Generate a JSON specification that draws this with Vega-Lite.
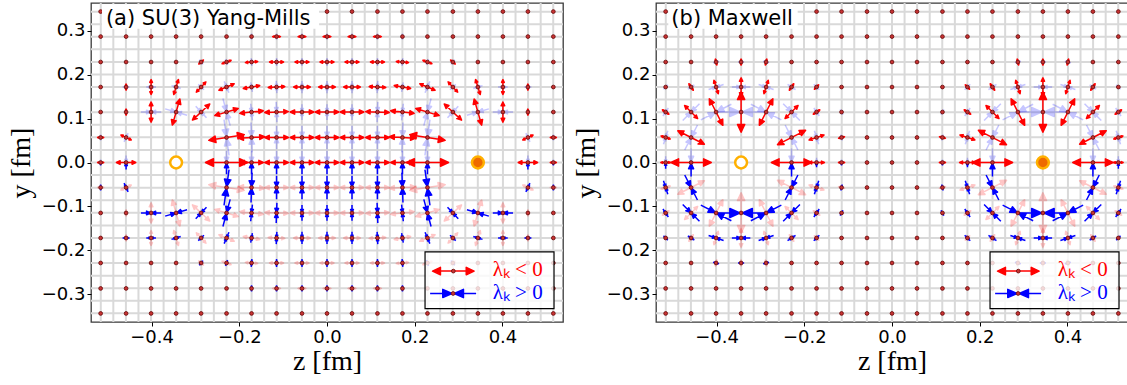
{
"$schema":"https://vega.github.io/schema/vega-lite/v6.json",
"background":"white",
"padding":{"left":6,"top":1,"right":0,"bottom":0},
"bounds":"flush",
"spacing":93,
"config":{"view":{"stroke":"#3a3a3a","strokeWidth":1.3},"axis":{"grid":false,"domain":false,"tickColor":"black","tickSize":4,"tickWidth":1,"labelFont":"DejaVu Sans","labelFontSize":18,"labelColor":"black","titleFont":"Liberation Serif","titleFontSize":28,"titleFontWeight":"normal","titleColor":"black"}},
"datasets":{
"GZ":[{"z":-0.5157},{"z":-0.4871},{"z":-0.4584},{"z":-0.4298},{"z":-0.4011},{"z":-0.3725},{"z":-0.3438},{"z":-0.3152},{"z":-0.2865},{"z":-0.2579},{"z":-0.2292},{"z":-0.2006},{"z":-0.1719},{"z":-0.1433},{"z":-0.1146},{"z":-0.086},{"z":-0.0573},{"z":-0.0287},{"z":0},{"z":0.0287},{"z":0.0573},{"z":0.086},{"z":0.1146},{"z":0.1433},{"z":0.1719},{"z":0.2006},{"z":0.2292},{"z":0.2579},{"z":0.2865},{"z":0.3152},{"z":0.3438},{"z":0.3725},{"z":0.4011},{"z":0.4298},{"z":0.4584},{"z":0.4871},{"z":0.5157}],
"GY":[{"y":-0.3438},{"y":-0.3152},{"y":-0.2865},{"y":-0.2579},{"y":-0.2292},{"y":-0.2006},{"y":-0.1719},{"y":-0.1433},{"y":-0.1146},{"y":-0.086},{"y":-0.0573},{"y":-0.0287},{"y":0},{"y":0.0287},{"y":0.0573},{"y":0.086},{"y":0.1146},{"y":0.1433},{"y":0.1719},{"y":0.2006},{"y":0.2292},{"y":0.2579},{"y":0.2865},{"y":0.3152},{"y":0.3438}],
"S":[{"z":-0.344,"y":0,"c":"o"},{"z":0.344,"y":0,"c":"f"}],
"L":[
{"z":-0.516,"y":0.344},{"z":-0.458,"y":0.344},{"z":-0.401,"y":0.344},{"z":-0.344,"y":0.344},{"z":-0.287,"y":0.344},{"z":-0.229,"y":0.344},{"z":-0.172,"y":0.344},{"z":-0.115,"y":0.344},{"z":-0.057,"y":0.344},{"z":0,"y":0.344},{"z":0.057,"y":0.344},{"z":0.115,"y":0.344},{"z":0.172,"y":0.344},{"z":0.229,"y":0.344},{"z":0.287,"y":0.344},{"z":0.344,"y":0.344},{"z":0.401,"y":0.344},{"z":0.458,"y":0.344},{"z":0.516,"y":0.344},
{"z":-0.516,"y":0.287},{"z":-0.458,"y":0.287},{"z":-0.401,"y":0.287},{"z":-0.344,"y":0.287},{"z":-0.287,"y":0.287},{"z":-0.229,"y":0.287},{"z":-0.172,"y":0.287},{"z":-0.115,"y":0.287},{"z":-0.057,"y":0.287},{"z":0,"y":0.287},{"z":0.057,"y":0.287},{"z":0.115,"y":0.287},{"z":0.172,"y":0.287},{"z":0.229,"y":0.287},{"z":0.287,"y":0.287},{"z":0.344,"y":0.287},{"z":0.401,"y":0.287},{"z":0.458,"y":0.287},{"z":0.516,"y":0.287},
{"z":-0.516,"y":0.229},{"z":-0.458,"y":0.229},{"z":-0.401,"y":0.229},{"z":-0.344,"y":0.229},{"z":-0.287,"y":0.229},{"z":-0.229,"y":0.229},{"z":-0.172,"y":0.229},{"z":-0.115,"y":0.229},{"z":-0.057,"y":0.229},{"z":0,"y":0.229},{"z":0.057,"y":0.229},{"z":0.115,"y":0.229},{"z":0.172,"y":0.229},{"z":0.229,"y":0.229},{"z":0.287,"y":0.229},{"z":0.344,"y":0.229},{"z":0.401,"y":0.229},{"z":0.458,"y":0.229},{"z":0.516,"y":0.229},
{"z":-0.516,"y":0.172},{"z":-0.458,"y":0.172},{"z":-0.401,"y":0.172},{"z":-0.344,"y":0.172},{"z":-0.287,"y":0.172},{"z":-0.229,"y":0.172},{"z":-0.172,"y":0.172},{"z":-0.115,"y":0.172},{"z":-0.057,"y":0.172},{"z":0,"y":0.172},{"z":0.057,"y":0.172},{"z":0.115,"y":0.172},{"z":0.172,"y":0.172},{"z":0.229,"y":0.172},{"z":0.287,"y":0.172},{"z":0.344,"y":0.172},{"z":0.401,"y":0.172},{"z":0.458,"y":0.172},{"z":0.516,"y":0.172},
{"z":-0.516,"y":0.115},{"z":-0.458,"y":0.115},{"z":-0.401,"y":0.115},{"z":-0.344,"y":0.115},{"z":-0.287,"y":0.115},{"z":-0.229,"y":0.115},{"z":-0.172,"y":0.115},{"z":-0.115,"y":0.115},{"z":-0.057,"y":0.115},{"z":0,"y":0.115},{"z":0.057,"y":0.115},{"z":0.115,"y":0.115},{"z":0.172,"y":0.115},{"z":0.229,"y":0.115},{"z":0.287,"y":0.115},{"z":0.344,"y":0.115},{"z":0.401,"y":0.115},{"z":0.458,"y":0.115},{"z":0.516,"y":0.115},
{"z":-0.516,"y":0.057},{"z":-0.458,"y":0.057},{"z":-0.229,"y":0.057},{"z":-0.172,"y":0.057},{"z":-0.115,"y":0.057},{"z":-0.057,"y":0.057},{"z":0,"y":0.057},{"z":0.057,"y":0.057},{"z":0.115,"y":0.057},{"z":0.172,"y":0.057},{"z":0.229,"y":0.057},{"z":0.458,"y":0.057},{"z":0.516,"y":0.057},
{"z":-0.516,"y":0},{"z":-0.458,"y":0},{"z":-0.229,"y":0},{"z":-0.172,"y":0},{"z":-0.115,"y":0},{"z":-0.057,"y":0},{"z":0,"y":0},{"z":0.057,"y":0},{"z":0.115,"y":0},{"z":0.172,"y":0},{"z":0.229,"y":0},{"z":0.458,"y":0},{"z":0.516,"y":0},
{"z":-0.516,"y":-0.057},{"z":-0.458,"y":-0.057},{"z":-0.229,"y":-0.057},{"z":-0.172,"y":-0.057},{"z":-0.115,"y":-0.057},{"z":-0.057,"y":-0.057},{"z":0,"y":-0.057},{"z":0.057,"y":-0.057},{"z":0.115,"y":-0.057},{"z":0.172,"y":-0.057},{"z":0.229,"y":-0.057},{"z":0.458,"y":-0.057},{"z":0.516,"y":-0.057},
{"z":-0.516,"y":-0.115},{"z":-0.458,"y":-0.115},{"z":-0.401,"y":-0.115},{"z":-0.344,"y":-0.115},{"z":-0.287,"y":-0.115},{"z":-0.229,"y":-0.115},{"z":-0.172,"y":-0.115},{"z":-0.115,"y":-0.115},{"z":-0.057,"y":-0.115},{"z":0,"y":-0.115},{"z":0.057,"y":-0.115},{"z":0.115,"y":-0.115},{"z":0.172,"y":-0.115},{"z":0.229,"y":-0.115},{"z":0.287,"y":-0.115},{"z":0.344,"y":-0.115},{"z":0.401,"y":-0.115},{"z":0.458,"y":-0.115},{"z":0.516,"y":-0.115},
{"z":-0.516,"y":-0.172},{"z":-0.458,"y":-0.172},{"z":-0.401,"y":-0.172},{"z":-0.344,"y":-0.172},{"z":-0.287,"y":-0.172},{"z":-0.229,"y":-0.172},{"z":-0.172,"y":-0.172},{"z":-0.115,"y":-0.172},{"z":-0.057,"y":-0.172},{"z":0,"y":-0.172},{"z":0.057,"y":-0.172},{"z":0.115,"y":-0.172},{"z":0.172,"y":-0.172},{"z":0.229,"y":-0.172},{"z":0.287,"y":-0.172},{"z":0.344,"y":-0.172},{"z":0.401,"y":-0.172},{"z":0.458,"y":-0.172},{"z":0.516,"y":-0.172},
{"z":-0.516,"y":-0.229},{"z":-0.458,"y":-0.229},{"z":-0.401,"y":-0.229},{"z":-0.344,"y":-0.229},{"z":-0.287,"y":-0.229},{"z":-0.229,"y":-0.229},{"z":-0.172,"y":-0.229},{"z":-0.115,"y":-0.229},{"z":-0.057,"y":-0.229},{"z":0,"y":-0.229},{"z":0.057,"y":-0.229},{"z":0.115,"y":-0.229},{"z":0.172,"y":-0.229},{"z":0.229,"y":-0.229},{"z":0.287,"y":-0.229},{"z":0.344,"y":-0.229},{"z":0.401,"y":-0.229},{"z":0.458,"y":-0.229},{"z":0.516,"y":-0.229},
{"z":-0.516,"y":-0.287},{"z":-0.458,"y":-0.287},{"z":-0.401,"y":-0.287},{"z":-0.344,"y":-0.287},{"z":-0.287,"y":-0.287},{"z":-0.229,"y":-0.287},{"z":-0.172,"y":-0.287},{"z":-0.115,"y":-0.287},{"z":-0.057,"y":-0.287},{"z":0,"y":-0.287},{"z":0.057,"y":-0.287},{"z":0.115,"y":-0.287},{"z":0.172,"y":-0.287},{"z":0.229,"y":-0.287},{"z":0.287,"y":-0.287},{"z":0.344,"y":-0.287},{"z":0.401,"y":-0.287},{"z":0.458,"y":-0.287},{"z":0.516,"y":-0.287},
{"z":-0.516,"y":-0.344},{"z":-0.458,"y":-0.344},{"z":-0.401,"y":-0.344},{"z":-0.344,"y":-0.344},{"z":-0.287,"y":-0.344},{"z":-0.229,"y":-0.344},{"z":-0.172,"y":-0.344},{"z":-0.115,"y":-0.344},{"z":-0.057,"y":-0.344},{"z":0,"y":-0.344},{"z":0.057,"y":-0.344},{"z":0.115,"y":-0.344},{"z":0.172,"y":-0.344},{"z":0.229,"y":-0.344},{"z":0.287,"y":-0.344},{"z":0.344,"y":-0.344},{"z":0.401,"y":-0.344},{"z":0.458,"y":-0.344},{"z":0.516,"y":-0.344}
],
"A":[
{"z":-0.115,"y":0.287,"m":0.009,"t":0,"k":"n"},{"z":-0.057,"y":0.287,"m":0.009,"t":0,"k":"n"},{"z":0,"y":0.287,"m":0.009,"t":0,"k":"n"},{"z":0.057,"y":0.287,"m":0.009,"t":0,"k":"n"},{"z":0.115,"y":0.287,"m":0.009,"t":0,"k":"n"},
{"z":-0.287,"y":0.229,"m":0.007,"t":40,"k":"n"},{"z":-0.229,"y":0.229,"m":0.011,"t":20,"k":"n"},{"z":-0.172,"y":0.229,"m":0.014,"t":5,"k":"n"},{"z":-0.115,"y":0.229,"m":0.016,"t":0,"k":"n"},{"z":-0.057,"y":0.229,"m":0.016,"t":0,"k":"n"},{"z":0,"y":0.229,"m":0.016,"t":0,"k":"n"},{"z":0.057,"y":0.229,"m":0.016,"t":0,"k":"n"},{"z":0.115,"y":0.229,"m":0.016,"t":0,"k":"n"},{"z":0.172,"y":0.229,"m":0.014,"t":-5,"k":"n"},{"z":0.229,"y":0.229,"m":0.011,"t":-20,"k":"n"},{"z":0.287,"y":0.229,"m":0.007,"t":-40,"k":"n"},
{"z":-0.458,"y":0.172,"m":0.007,"t":90,"k":"n"},{"z":-0.401,"y":0.172,"m":0.017,"t":90,"k":"n"},{"z":-0.344,"y":0.172,"m":0.018,"t":73,"k":"n"},{"z":-0.287,"y":0.172,"m":0.016,"t":47,"k":"n"},{"z":-0.229,"y":0.172,"m":0.019,"t":23,"k":"n"},{"z":-0.172,"y":0.172,"m":0.019,"t":10,"k":"n"},{"z":-0.115,"y":0.172,"m":0.019,"t":3,"k":"n"},{"z":-0.057,"y":0.172,"m":0.019,"t":0,"k":"n"},{"z":0,"y":0.172,"m":0.019,"t":0,"k":"n"},{"z":0.057,"y":0.172,"m":0.019,"t":0,"k":"n"},{"z":0.115,"y":0.172,"m":0.019,"t":-3,"k":"n"},{"z":0.172,"y":0.172,"m":0.019,"t":-10,"k":"n"},{"z":0.229,"y":0.172,"m":0.019,"t":-23,"k":"n"},{"z":0.287,"y":0.172,"m":0.016,"t":-47,"k":"n"},{"z":0.344,"y":0.172,"m":0.018,"t":-73,"k":"n"},{"z":0.401,"y":0.172,"m":0.017,"t":90,"k":"n"},{"z":0.458,"y":0.172,"m":0.007,"t":90,"k":"n"},
{"z":-0.458,"y":0.115,"m":0.007,"t":90,"k":"n"},{"z":-0.401,"y":0.115,"m":0.023,"t":90,"k":"n"},{"z":-0.344,"y":0.115,"m":0.031,"t":74,"k":"n"},{"z":-0.287,"y":0.115,"m":0.027,"t":43,"k":"n"},{"z":-0.229,"y":0.115,"m":0.028,"t":17,"k":"n"},{"z":-0.172,"y":0.115,"m":0.027,"t":6,"k":"n"},{"z":-0.115,"y":0.115,"m":0.027,"t":2,"k":"n"},{"z":-0.057,"y":0.115,"m":0.027,"t":0,"k":"n"},{"z":0,"y":0.115,"m":0.027,"t":0,"k":"n"},{"z":0.057,"y":0.115,"m":0.027,"t":0,"k":"n"},{"z":0.115,"y":0.115,"m":0.027,"t":-2,"k":"n"},{"z":0.172,"y":0.115,"m":0.027,"t":-6,"k":"n"},{"z":0.229,"y":0.115,"m":0.028,"t":-17,"k":"n"},{"z":0.287,"y":0.115,"m":0.027,"t":-43,"k":"n"},{"z":0.344,"y":0.115,"m":0.031,"t":-74,"k":"n"},{"z":0.401,"y":0.115,"m":0.023,"t":90,"k":"n"},{"z":0.458,"y":0.115,"m":0.007,"t":90,"k":"n"},
{"z":-0.516,"y":0.057,"m":0.007,"t":0,"k":"n"},{"z":-0.458,"y":0.057,"m":0.013,"t":-25,"k":"n"},{"z":-0.229,"y":0.057,"m":0.041,"t":9,"k":"n"},{"z":-0.172,"y":0.057,"m":0.03,"t":3,"k":"n"},{"z":-0.115,"y":0.057,"m":0.027,"t":0,"k":"n"},{"z":-0.057,"y":0.057,"m":0.027,"t":0,"k":"n"},{"z":0,"y":0.057,"m":0.027,"t":0,"k":"n"},{"z":0.057,"y":0.057,"m":0.027,"t":0,"k":"n"},{"z":0.115,"y":0.057,"m":0.027,"t":0,"k":"n"},{"z":0.172,"y":0.057,"m":0.03,"t":-3,"k":"n"},{"z":0.229,"y":0.057,"m":0.041,"t":-9,"k":"n"},{"z":0.458,"y":0.057,"m":0.013,"t":25,"k":"n"},{"z":0.516,"y":0.057,"m":0.007,"t":0,"k":"n"},
{"z":-0.516,"y":0,"m":0.007,"t":0,"k":"n"},{"z":-0.458,"y":0,"m":0.022,"t":0,"k":"n"},{"z":-0.229,"y":0,"m":0.048,"t":0,"k":"n"},{"z":-0.172,"y":0,"m":0.027,"t":0,"k":"n"},{"z":-0.115,"y":0,"m":0.027,"t":0,"k":"n"},{"z":-0.057,"y":0,"m":0.027,"t":0,"k":"n"},{"z":0,"y":0,"m":0.027,"t":0,"k":"n"},{"z":0.057,"y":0,"m":0.027,"t":0,"k":"n"},{"z":0.115,"y":0,"m":0.027,"t":0,"k":"n"},{"z":0.172,"y":0,"m":0.027,"t":0,"k":"n"},{"z":0.229,"y":0,"m":0.048,"t":0,"k":"n"},{"z":0.458,"y":0,"m":0.022,"t":0,"k":"n"},{"z":0.516,"y":0,"m":0.007,"t":0,"k":"n"},
{"z":-0.516,"y":-0.057,"m":0.007,"t":0,"k":"N"},{"z":-0.458,"y":-0.057,"m":0.013,"t":25,"k":"N"},{"z":-0.229,"y":-0.057,"m":0.041,"t":-9,"k":"N"},{"z":-0.172,"y":-0.057,"m":0.03,"t":-3,"k":"N"},{"z":-0.115,"y":-0.057,"m":0.027,"t":0,"k":"N"},{"z":-0.057,"y":-0.057,"m":0.027,"t":0,"k":"N"},{"z":0,"y":-0.057,"m":0.027,"t":0,"k":"N"},{"z":0.057,"y":-0.057,"m":0.027,"t":0,"k":"N"},{"z":0.115,"y":-0.057,"m":0.027,"t":0,"k":"N"},{"z":0.172,"y":-0.057,"m":0.03,"t":3,"k":"N"},{"z":0.229,"y":-0.057,"m":0.041,"t":9,"k":"N"},{"z":0.458,"y":-0.057,"m":0.013,"t":-25,"k":"N"},{"z":0.516,"y":-0.057,"m":0.007,"t":0,"k":"N"},
{"z":-0.458,"y":-0.115,"m":0.007,"t":90,"k":"N"},{"z":-0.401,"y":-0.115,"m":0.023,"t":90,"k":"N"},{"z":-0.344,"y":-0.115,"m":0.031,"t":-74,"k":"N"},{"z":-0.287,"y":-0.115,"m":0.027,"t":-43,"k":"N"},{"z":-0.229,"y":-0.115,"m":0.028,"t":-17,"k":"N"},{"z":-0.172,"y":-0.115,"m":0.027,"t":-6,"k":"N"},{"z":-0.115,"y":-0.115,"m":0.027,"t":-2,"k":"N"},{"z":-0.057,"y":-0.115,"m":0.027,"t":0,"k":"N"},{"z":0,"y":-0.115,"m":0.027,"t":0,"k":"N"},{"z":0.057,"y":-0.115,"m":0.027,"t":0,"k":"N"},{"z":0.115,"y":-0.115,"m":0.027,"t":2,"k":"N"},{"z":0.172,"y":-0.115,"m":0.027,"t":6,"k":"N"},{"z":0.229,"y":-0.115,"m":0.028,"t":17,"k":"N"},{"z":0.287,"y":-0.115,"m":0.027,"t":43,"k":"N"},{"z":0.344,"y":-0.115,"m":0.031,"t":74,"k":"N"},{"z":0.401,"y":-0.115,"m":0.023,"t":90,"k":"N"},{"z":0.458,"y":-0.115,"m":0.007,"t":90,"k":"N"},
{"z":-0.458,"y":-0.172,"m":0.007,"t":90,"k":"N"},{"z":-0.401,"y":-0.172,"m":0.017,"t":90,"k":"N"},{"z":-0.344,"y":-0.172,"m":0.018,"t":-73,"k":"N"},{"z":-0.287,"y":-0.172,"m":0.016,"t":-47,"k":"N"},{"z":-0.229,"y":-0.172,"m":0.019,"t":-23,"k":"N"},{"z":-0.172,"y":-0.172,"m":0.019,"t":-10,"k":"N"},{"z":-0.115,"y":-0.172,"m":0.019,"t":-3,"k":"N"},{"z":-0.057,"y":-0.172,"m":0.019,"t":0,"k":"N"},{"z":0,"y":-0.172,"m":0.019,"t":0,"k":"N"},{"z":0.057,"y":-0.172,"m":0.019,"t":0,"k":"N"},{"z":0.115,"y":-0.172,"m":0.019,"t":3,"k":"N"},{"z":0.172,"y":-0.172,"m":0.019,"t":10,"k":"N"},{"z":0.229,"y":-0.172,"m":0.019,"t":23,"k":"N"},{"z":0.287,"y":-0.172,"m":0.016,"t":47,"k":"N"},{"z":0.344,"y":-0.172,"m":0.018,"t":73,"k":"N"},{"z":0.401,"y":-0.172,"m":0.017,"t":90,"k":"N"},{"z":0.458,"y":-0.172,"m":0.007,"t":90,"k":"N"},
{"z":-0.287,"y":-0.229,"m":0.007,"t":-40,"k":"N"},{"z":-0.229,"y":-0.229,"m":0.011,"t":-20,"k":"N"},{"z":-0.172,"y":-0.229,"m":0.014,"t":-5,"k":"N"},{"z":-0.115,"y":-0.229,"m":0.016,"t":0,"k":"N"},{"z":-0.057,"y":-0.229,"m":0.016,"t":0,"k":"N"},{"z":0,"y":-0.229,"m":0.016,"t":0,"k":"N"},{"z":0.057,"y":-0.229,"m":0.016,"t":0,"k":"N"},{"z":0.115,"y":-0.229,"m":0.016,"t":0,"k":"N"},{"z":0.172,"y":-0.229,"m":0.014,"t":5,"k":"N"},{"z":0.229,"y":-0.229,"m":0.011,"t":20,"k":"N"},{"z":0.287,"y":-0.229,"m":0.007,"t":40,"k":"N"},
{"z":-0.115,"y":-0.287,"m":0.009,"t":0,"k":"N"},{"z":-0.057,"y":-0.287,"m":0.009,"t":0,"k":"N"},{"z":0,"y":-0.287,"m":0.009,"t":0,"k":"N"},{"z":0.057,"y":-0.287,"m":0.009,"t":0,"k":"N"},{"z":0.115,"y":-0.287,"m":0.009,"t":0,"k":"N"},
{"z":-0.516,"y":-0.057,"m":0.007,"t":90,"k":"p"},{"z":-0.458,"y":-0.057,"m":0.011,"t":-65,"k":"p"},{"z":-0.229,"y":-0.057,"m":0.041,"t":82,"k":"p"},{"z":-0.172,"y":-0.057,"m":0.034,"t":88,"k":"p"},{"z":-0.115,"y":-0.057,"m":0.027,"t":90,"k":"p"},{"z":-0.057,"y":-0.057,"m":0.027,"t":90,"k":"p"},{"z":0,"y":-0.057,"m":0.027,"t":90,"k":"p"},{"z":0.057,"y":-0.057,"m":0.027,"t":90,"k":"p"},{"z":0.115,"y":-0.057,"m":0.027,"t":90,"k":"p"},{"z":0.172,"y":-0.057,"m":0.034,"t":-88,"k":"p"},{"z":0.229,"y":-0.057,"m":0.041,"t":-82,"k":"p"},{"z":0.458,"y":-0.057,"m":0.011,"t":65,"k":"p"},{"z":0.516,"y":-0.057,"m":0.007,"t":90,"k":"p"},
{"z":-0.401,"y":-0.115,"m":0.023,"t":0,"k":"p"},{"z":-0.344,"y":-0.115,"m":0.026,"t":16,"k":"p"},{"z":-0.287,"y":-0.115,"m":0.018,"t":47,"k":"p"},{"z":-0.229,"y":-0.115,"m":0.032,"t":75,"k":"p"},{"z":-0.172,"y":-0.115,"m":0.019,"t":84,"k":"p"},{"z":-0.115,"y":-0.115,"m":0.023,"t":88,"k":"p"},{"z":-0.057,"y":-0.115,"m":0.018,"t":90,"k":"p"},{"z":0,"y":-0.115,"m":0.018,"t":90,"k":"p"},{"z":0.057,"y":-0.115,"m":0.018,"t":90,"k":"p"},{"z":0.115,"y":-0.115,"m":0.023,"t":-88,"k":"p"},{"z":0.172,"y":-0.115,"m":0.019,"t":-84,"k":"p"},{"z":0.229,"y":-0.115,"m":0.032,"t":-75,"k":"p"},{"z":0.287,"y":-0.115,"m":0.018,"t":-47,"k":"p"},{"z":0.344,"y":-0.115,"m":0.026,"t":-16,"k":"p"},{"z":0.401,"y":-0.115,"m":0.023,"t":0,"k":"p"},
{"z":-0.458,"y":-0.172,"m":0.008,"t":0,"k":"p"},{"z":-0.401,"y":-0.172,"m":0.011,"t":0,"k":"p"},{"z":-0.344,"y":-0.172,"m":0.011,"t":17,"k":"p"},{"z":-0.287,"y":-0.172,"m":0.009,"t":43,"k":"p"},{"z":-0.229,"y":-0.172,"m":0.014,"t":67,"k":"p"},{"z":-0.172,"y":-0.172,"m":0.011,"t":80,"k":"p"},{"z":-0.115,"y":-0.172,"m":0.014,"t":87,"k":"p"},{"z":-0.057,"y":-0.172,"m":0.014,"t":90,"k":"p"},{"z":0,"y":-0.172,"m":0.014,"t":90,"k":"p"},{"z":0.057,"y":-0.172,"m":0.014,"t":90,"k":"p"},{"z":0.115,"y":-0.172,"m":0.014,"t":-87,"k":"p"},{"z":0.172,"y":-0.172,"m":0.011,"t":-80,"k":"p"},{"z":0.229,"y":-0.172,"m":0.014,"t":-67,"k":"p"},{"z":0.287,"y":-0.172,"m":0.009,"t":-43,"k":"p"},{"z":0.344,"y":-0.172,"m":0.011,"t":-17,"k":"p"},{"z":0.401,"y":-0.172,"m":0.011,"t":0,"k":"p"},{"z":0.458,"y":-0.172,"m":0.008,"t":0,"k":"p"},
{"z":-0.287,"y":-0.229,"m":0.007,"t":50,"k":"p"},{"z":-0.229,"y":-0.229,"m":0.007,"t":70,"k":"p"},{"z":-0.172,"y":-0.229,"m":0.009,"t":85,"k":"p"},{"z":-0.115,"y":-0.229,"m":0.009,"t":90,"k":"p"},{"z":-0.057,"y":-0.229,"m":0.009,"t":90,"k":"p"},{"z":0,"y":-0.229,"m":0.009,"t":90,"k":"p"},{"z":0.057,"y":-0.229,"m":0.009,"t":90,"k":"p"},{"z":0.115,"y":-0.229,"m":0.009,"t":90,"k":"p"},{"z":0.172,"y":-0.229,"m":0.009,"t":-85,"k":"p"},{"z":0.229,"y":-0.229,"m":0.007,"t":-70,"k":"p"},{"z":0.287,"y":-0.229,"m":0.007,"t":-50,"k":"p"},
{"z":-0.172,"y":-0.287,"m":0.007,"t":90,"k":"p"},{"z":-0.115,"y":-0.287,"m":0.007,"t":90,"k":"p"},{"z":-0.057,"y":-0.287,"m":0.007,"t":90,"k":"p"},{"z":0,"y":-0.287,"m":0.007,"t":90,"k":"p"},{"z":0.057,"y":-0.287,"m":0.007,"t":90,"k":"p"},{"z":0.115,"y":-0.287,"m":0.007,"t":90,"k":"p"},{"z":0.172,"y":-0.287,"m":0.007,"t":90,"k":"p"},
{"z":-0.516,"y":0.057,"m":0.007,"t":90,"k":"P"},{"z":-0.458,"y":0.057,"m":0.011,"t":65,"k":"P"},{"z":-0.229,"y":0.057,"m":0.041,"t":-82,"k":"P"},{"z":-0.172,"y":0.057,"m":0.034,"t":-88,"k":"P"},{"z":-0.115,"y":0.057,"m":0.027,"t":90,"k":"P"},{"z":-0.057,"y":0.057,"m":0.027,"t":90,"k":"P"},{"z":0,"y":0.057,"m":0.027,"t":90,"k":"P"},{"z":0.057,"y":0.057,"m":0.027,"t":90,"k":"P"},{"z":0.115,"y":0.057,"m":0.027,"t":90,"k":"P"},{"z":0.172,"y":0.057,"m":0.034,"t":88,"k":"P"},{"z":0.229,"y":0.057,"m":0.041,"t":82,"k":"P"},{"z":0.458,"y":0.057,"m":0.011,"t":-65,"k":"P"},{"z":0.516,"y":0.057,"m":0.007,"t":90,"k":"P"},
{"z":-0.401,"y":0.115,"m":0.023,"t":0,"k":"P"},{"z":-0.344,"y":0.115,"m":0.026,"t":-16,"k":"P"},{"z":-0.287,"y":0.115,"m":0.018,"t":-47,"k":"P"},{"z":-0.229,"y":0.115,"m":0.032,"t":-75,"k":"P"},{"z":-0.172,"y":0.115,"m":0.019,"t":-84,"k":"P"},{"z":-0.115,"y":0.115,"m":0.023,"t":-88,"k":"P"},{"z":-0.057,"y":0.115,"m":0.018,"t":90,"k":"P"},{"z":0,"y":0.115,"m":0.018,"t":90,"k":"P"},{"z":0.057,"y":0.115,"m":0.018,"t":90,"k":"P"},{"z":0.115,"y":0.115,"m":0.023,"t":88,"k":"P"},{"z":0.172,"y":0.115,"m":0.019,"t":84,"k":"P"},{"z":0.229,"y":0.115,"m":0.032,"t":75,"k":"P"},{"z":0.287,"y":0.115,"m":0.018,"t":47,"k":"P"},{"z":0.344,"y":0.115,"m":0.026,"t":16,"k":"P"},{"z":0.401,"y":0.115,"m":0.023,"t":0,"k":"P"},
{"z":-0.458,"y":0.172,"m":0.008,"t":0,"k":"P"},{"z":-0.401,"y":0.172,"m":0.011,"t":0,"k":"P"},{"z":-0.344,"y":0.172,"m":0.011,"t":-17,"k":"P"},{"z":-0.287,"y":0.172,"m":0.009,"t":-43,"k":"P"},{"z":-0.229,"y":0.172,"m":0.014,"t":-67,"k":"P"},{"z":-0.172,"y":0.172,"m":0.011,"t":-80,"k":"P"},{"z":-0.115,"y":0.172,"m":0.014,"t":-87,"k":"P"},{"z":-0.057,"y":0.172,"m":0.014,"t":90,"k":"P"},{"z":0,"y":0.172,"m":0.014,"t":90,"k":"P"},{"z":0.057,"y":0.172,"m":0.014,"t":90,"k":"P"},{"z":0.115,"y":0.172,"m":0.014,"t":87,"k":"P"},{"z":0.172,"y":0.172,"m":0.011,"t":80,"k":"P"},{"z":0.229,"y":0.172,"m":0.014,"t":67,"k":"P"},{"z":0.287,"y":0.172,"m":0.009,"t":43,"k":"P"},{"z":0.344,"y":0.172,"m":0.011,"t":17,"k":"P"},{"z":0.401,"y":0.172,"m":0.011,"t":0,"k":"P"},{"z":0.458,"y":0.172,"m":0.008,"t":0,"k":"P"},
{"z":-0.287,"y":0.229,"m":0.007,"t":-50,"k":"P"},{"z":-0.229,"y":0.229,"m":0.007,"t":-70,"k":"P"},{"z":-0.172,"y":0.229,"m":0.009,"t":-85,"k":"P"},{"z":-0.115,"y":0.229,"m":0.009,"t":90,"k":"P"},{"z":-0.057,"y":0.229,"m":0.009,"t":90,"k":"P"},{"z":0,"y":0.229,"m":0.009,"t":90,"k":"P"},{"z":0.057,"y":0.229,"m":0.009,"t":90,"k":"P"},{"z":0.115,"y":0.229,"m":0.009,"t":90,"k":"P"},{"z":0.172,"y":0.229,"m":0.009,"t":85,"k":"P"},{"z":0.229,"y":0.229,"m":0.007,"t":70,"k":"P"},{"z":0.287,"y":0.229,"m":0.007,"t":50,"k":"P"},
{"z":-0.172,"y":0.287,"m":0.007,"t":90,"k":"P"},{"z":-0.115,"y":0.287,"m":0.007,"t":90,"k":"P"},{"z":-0.057,"y":0.287,"m":0.007,"t":90,"k":"P"},{"z":0,"y":0.287,"m":0.007,"t":90,"k":"P"},{"z":0.057,"y":0.287,"m":0.007,"t":90,"k":"P"},{"z":0.115,"y":0.287,"m":0.007,"t":90,"k":"P"},{"z":0.172,"y":0.287,"m":0.007,"t":90,"k":"P"},
{"z":-0.516,"y":0,"m":0.007,"t":-90,"k":"q"},{"z":-0.458,"y":0,"m":0.016,"t":-90,"k":"q"},{"z":-0.229,"y":0,"m":0.027,"t":-90,"k":"q"},{"z":-0.172,"y":0,"m":0.027,"t":-90,"k":"q"},{"z":-0.115,"y":0,"m":0.027,"t":-90,"k":"q"},{"z":-0.057,"y":0,"m":0.027,"t":-90,"k":"q"},{"z":0,"y":0,"m":0.027,"t":-90,"k":"q"},{"z":0.057,"y":0,"m":0.027,"t":-90,"k":"q"},{"z":0.115,"y":0,"m":0.027,"t":-90,"k":"q"},{"z":0.172,"y":0,"m":0.027,"t":-90,"k":"q"},{"z":0.229,"y":0,"m":0.027,"t":-90,"k":"q"},{"z":0.458,"y":0,"m":0.016,"t":-90,"k":"q"},{"z":0.516,"y":0,"m":0.007,"t":-90,"k":"q"},
{"z":-0.516,"y":0,"m":0.007,"t":90,"k":"Q"},{"z":-0.458,"y":0,"m":0.016,"t":90,"k":"Q"},{"z":-0.229,"y":0,"m":0.027,"t":90,"k":"Q"},{"z":-0.172,"y":0,"m":0.027,"t":90,"k":"Q"},{"z":-0.115,"y":0,"m":0.027,"t":90,"k":"Q"},{"z":-0.057,"y":0,"m":0.027,"t":90,"k":"Q"},{"z":0,"y":0,"m":0.027,"t":90,"k":"Q"},{"z":0.057,"y":0,"m":0.027,"t":90,"k":"Q"},{"z":0.115,"y":0,"m":0.027,"t":90,"k":"Q"},{"z":0.172,"y":0,"m":0.027,"t":90,"k":"Q"},{"z":0.229,"y":0,"m":0.027,"t":90,"k":"Q"},{"z":0.458,"y":0,"m":0.016,"t":90,"k":"Q"},{"z":0.516,"y":0,"m":0.007,"t":90,"k":"Q"}
],
"B":[
{"z":-0.516,"y":0,"m":0.011,"t":0,"k":"n"},{"z":-0.458,"y":0,"m":0.046,"t":0,"k":"n"},{"z":-0.229,"y":0,"m":0.046,"t":0,"k":"n"},{"z":-0.172,"y":0,"m":0.018,"t":0,"k":"n"},{"z":-0.115,"y":0,"m":0.007,"t":0,"k":"n"},{"z":0.115,"y":0,"m":0.007,"t":0,"k":"n"},{"z":0.172,"y":0,"m":0.018,"t":0,"k":"n"},{"z":0.229,"y":0,"m":0.046,"t":0,"k":"n"},{"z":0.458,"y":0,"m":0.046,"t":0,"k":"n"},{"z":0.516,"y":0,"m":0.011,"t":0,"k":"n"},
{"z":-0.516,"y":0.057,"m":0.011,"t":-18,"k":"n"},{"z":-0.458,"y":0.057,"m":0.034,"t":-27,"k":"n"},{"z":-0.229,"y":0.057,"m":0.036,"t":27,"k":"n"},{"z":-0.172,"y":0.057,"m":0.018,"t":18,"k":"n"},{"z":-0.115,"y":0.057,"m":0.007,"t":14,"k":"n"},{"z":0.115,"y":0.057,"m":0.007,"t":-14,"k":"n"},{"z":0.172,"y":0.057,"m":0.018,"t":-18,"k":"n"},{"z":0.229,"y":0.057,"m":0.036,"t":-27,"k":"n"},{"z":0.458,"y":0.057,"m":0.034,"t":27,"k":"n"},{"z":0.516,"y":0.057,"m":0.011,"t":18,"k":"n"},
{"z":-0.516,"y":0.115,"m":0.009,"t":-34,"k":"n"},{"z":-0.458,"y":0.115,"m":0.021,"t":-45,"k":"n"},{"z":-0.401,"y":0.115,"m":0.034,"t":-63,"k":"n"},{"z":-0.344,"y":0.115,"m":0.046,"t":90,"k":"n"},{"z":-0.287,"y":0.115,"m":0.034,"t":63,"k":"n"},{"z":-0.229,"y":0.115,"m":0.021,"t":45,"k":"n"},{"z":-0.172,"y":0.115,"m":0.009,"t":34,"k":"n"},{"z":0.172,"y":0.115,"m":0.009,"t":-34,"k":"n"},{"z":0.229,"y":0.115,"m":0.021,"t":-45,"k":"n"},{"z":0.287,"y":0.115,"m":0.034,"t":-63,"k":"n"},{"z":0.344,"y":0.115,"m":0.046,"t":90,"k":"n"},{"z":0.401,"y":0.115,"m":0.034,"t":63,"k":"n"},{"z":0.458,"y":0.115,"m":0.021,"t":45,"k":"n"},{"z":0.516,"y":0.115,"m":0.009,"t":34,"k":"n"},
{"z":-0.458,"y":0.172,"m":0.009,"t":-56,"k":"n"},{"z":-0.401,"y":0.172,"m":0.016,"t":-72,"k":"n"},{"z":-0.344,"y":0.172,"m":0.021,"t":90,"k":"n"},{"z":-0.287,"y":0.172,"m":0.016,"t":72,"k":"n"},{"z":-0.229,"y":0.172,"m":0.009,"t":56,"k":"n"},{"z":-0.172,"y":0.172,"m":0.007,"t":45,"k":"n"},{"z":0.172,"y":0.172,"m":0.007,"t":-45,"k":"n"},{"z":0.229,"y":0.172,"m":0.009,"t":-56,"k":"n"},{"z":0.287,"y":0.172,"m":0.016,"t":-72,"k":"n"},{"z":0.344,"y":0.172,"m":0.021,"t":90,"k":"n"},{"z":0.401,"y":0.172,"m":0.016,"t":72,"k":"n"},{"z":0.458,"y":0.172,"m":0.009,"t":56,"k":"n"},
{"z":-0.401,"y":0.229,"m":0.007,"t":-76,"k":"n"},{"z":-0.344,"y":0.229,"m":0.007,"t":90,"k":"n"},{"z":-0.287,"y":0.229,"m":0.007,"t":76,"k":"n"},{"z":0.287,"y":0.229,"m":0.007,"t":-76,"k":"n"},{"z":0.344,"y":0.229,"m":0.007,"t":90,"k":"n"},{"z":0.401,"y":0.229,"m":0.007,"t":76,"k":"n"},
{"z":-0.516,"y":-0.057,"m":0.011,"t":18,"k":"N"},{"z":-0.458,"y":-0.057,"m":0.034,"t":27,"k":"N"},{"z":-0.229,"y":-0.057,"m":0.036,"t":-27,"k":"N"},{"z":-0.172,"y":-0.057,"m":0.018,"t":-18,"k":"N"},{"z":-0.115,"y":-0.057,"m":0.007,"t":-14,"k":"N"},{"z":0.115,"y":-0.057,"m":0.007,"t":14,"k":"N"},{"z":0.172,"y":-0.057,"m":0.018,"t":18,"k":"N"},{"z":0.229,"y":-0.057,"m":0.036,"t":27,"k":"N"},{"z":0.458,"y":-0.057,"m":0.034,"t":-27,"k":"N"},{"z":0.516,"y":-0.057,"m":0.011,"t":-18,"k":"N"},
{"z":-0.516,"y":-0.115,"m":0.009,"t":34,"k":"N"},{"z":-0.458,"y":-0.115,"m":0.021,"t":45,"k":"N"},{"z":-0.401,"y":-0.115,"m":0.034,"t":63,"k":"N"},{"z":-0.344,"y":-0.115,"m":0.046,"t":90,"k":"N"},{"z":-0.287,"y":-0.115,"m":0.034,"t":-63,"k":"N"},{"z":-0.229,"y":-0.115,"m":0.021,"t":-45,"k":"N"},{"z":-0.172,"y":-0.115,"m":0.009,"t":-34,"k":"N"},{"z":0.172,"y":-0.115,"m":0.009,"t":34,"k":"N"},{"z":0.229,"y":-0.115,"m":0.021,"t":45,"k":"N"},{"z":0.287,"y":-0.115,"m":0.034,"t":63,"k":"N"},{"z":0.344,"y":-0.115,"m":0.046,"t":90,"k":"N"},{"z":0.401,"y":-0.115,"m":0.034,"t":-63,"k":"N"},{"z":0.458,"y":-0.115,"m":0.021,"t":-45,"k":"N"},{"z":0.516,"y":-0.115,"m":0.009,"t":-34,"k":"N"},
{"z":-0.458,"y":-0.172,"m":0.009,"t":56,"k":"N"},{"z":-0.401,"y":-0.172,"m":0.016,"t":72,"k":"N"},{"z":-0.344,"y":-0.172,"m":0.021,"t":90,"k":"N"},{"z":-0.287,"y":-0.172,"m":0.016,"t":-72,"k":"N"},{"z":-0.229,"y":-0.172,"m":0.009,"t":-56,"k":"N"},{"z":-0.172,"y":-0.172,"m":0.007,"t":-45,"k":"N"},{"z":0.172,"y":-0.172,"m":0.007,"t":45,"k":"N"},{"z":0.229,"y":-0.172,"m":0.009,"t":56,"k":"N"},{"z":0.287,"y":-0.172,"m":0.016,"t":72,"k":"N"},{"z":0.344,"y":-0.172,"m":0.021,"t":90,"k":"N"},{"z":0.401,"y":-0.172,"m":0.016,"t":-72,"k":"N"},{"z":0.458,"y":-0.172,"m":0.009,"t":-56,"k":"N"},
{"z":-0.401,"y":-0.229,"m":0.007,"t":76,"k":"N"},{"z":-0.344,"y":-0.229,"m":0.007,"t":90,"k":"N"},{"z":-0.287,"y":-0.229,"m":0.007,"t":-76,"k":"N"},{"z":0.287,"y":-0.229,"m":0.007,"t":76,"k":"N"},{"z":0.344,"y":-0.229,"m":0.007,"t":90,"k":"N"},{"z":0.401,"y":-0.229,"m":0.007,"t":-76,"k":"N"},
{"z":-0.516,"y":-0.057,"m":0.016,"t":-72,"k":"p"},{"z":-0.458,"y":-0.057,"m":0.032,"t":-63,"k":"p"},{"z":-0.229,"y":-0.057,"m":0.032,"t":63,"k":"p"},{"z":-0.172,"y":-0.057,"m":0.016,"t":72,"k":"p"},{"z":-0.115,"y":-0.057,"m":0.007,"t":76,"k":"p"},{"z":0.115,"y":-0.057,"m":0.007,"t":-76,"k":"p"},{"z":0.172,"y":-0.057,"m":0.016,"t":-72,"k":"p"},{"z":0.229,"y":-0.057,"m":0.032,"t":-63,"k":"p"},{"z":0.458,"y":-0.057,"m":0.032,"t":63,"k":"p"},{"z":0.516,"y":-0.057,"m":0.016,"t":72,"k":"p"},
{"z":-0.516,"y":-0.115,"m":0.011,"t":-56,"k":"p"},{"z":-0.458,"y":-0.115,"m":0.027,"t":-45,"k":"p"},{"z":-0.401,"y":-0.115,"m":0.039,"t":-27,"k":"p"},{"z":-0.344,"y":-0.115,"m":0.057,"t":0,"k":"p"},{"z":-0.287,"y":-0.115,"m":0.039,"t":27,"k":"p"},{"z":-0.229,"y":-0.115,"m":0.027,"t":45,"k":"p"},{"z":-0.172,"y":-0.115,"m":0.011,"t":56,"k":"p"},{"z":-0.115,"y":-0.115,"m":0.007,"t":63,"k":"p"},{"z":0.115,"y":-0.115,"m":0.007,"t":-63,"k":"p"},{"z":0.172,"y":-0.115,"m":0.011,"t":-56,"k":"p"},{"z":0.229,"y":-0.115,"m":0.027,"t":-45,"k":"p"},{"z":0.287,"y":-0.115,"m":0.039,"t":-27,"k":"p"},{"z":0.344,"y":-0.115,"m":0.057,"t":0,"k":"p"},{"z":0.401,"y":-0.115,"m":0.039,"t":27,"k":"p"},{"z":0.458,"y":-0.115,"m":0.027,"t":45,"k":"p"},{"z":0.516,"y":-0.115,"m":0.011,"t":56,"k":"p"},
{"z":-0.516,"y":-0.172,"m":0.007,"t":-45,"k":"p"},{"z":-0.458,"y":-0.172,"m":0.009,"t":-34,"k":"p"},{"z":-0.401,"y":-0.172,"m":0.018,"t":-18,"k":"p"},{"z":-0.344,"y":-0.172,"m":0.021,"t":0,"k":"p"},{"z":-0.287,"y":-0.172,"m":0.018,"t":18,"k":"p"},{"z":-0.229,"y":-0.172,"m":0.011,"t":34,"k":"p"},{"z":-0.172,"y":-0.172,"m":0.009,"t":45,"k":"p"},{"z":0.172,"y":-0.172,"m":0.009,"t":-45,"k":"p"},{"z":0.229,"y":-0.172,"m":0.011,"t":-34,"k":"p"},{"z":0.287,"y":-0.172,"m":0.018,"t":-18,"k":"p"},{"z":0.344,"y":-0.172,"m":0.021,"t":0,"k":"p"},{"z":0.401,"y":-0.172,"m":0.018,"t":18,"k":"p"},{"z":0.458,"y":-0.172,"m":0.009,"t":34,"k":"p"},{"z":0.516,"y":-0.172,"m":0.007,"t":45,"k":"p"},
{"z":-0.401,"y":-0.229,"m":0.007,"t":-14,"k":"p"},{"z":-0.344,"y":-0.229,"m":0.007,"t":0,"k":"p"},{"z":-0.287,"y":-0.229,"m":0.007,"t":14,"k":"p"},{"z":0.287,"y":-0.229,"m":0.007,"t":-14,"k":"p"},{"z":0.344,"y":-0.229,"m":0.007,"t":0,"k":"p"},{"z":0.401,"y":-0.229,"m":0.007,"t":14,"k":"p"},
{"z":-0.516,"y":0.057,"m":0.016,"t":72,"k":"P"},{"z":-0.458,"y":0.057,"m":0.032,"t":63,"k":"P"},{"z":-0.229,"y":0.057,"m":0.032,"t":-63,"k":"P"},{"z":-0.172,"y":0.057,"m":0.016,"t":-72,"k":"P"},{"z":-0.115,"y":0.057,"m":0.007,"t":-76,"k":"P"},{"z":0.115,"y":0.057,"m":0.007,"t":76,"k":"P"},{"z":0.172,"y":0.057,"m":0.016,"t":72,"k":"P"},{"z":0.229,"y":0.057,"m":0.032,"t":63,"k":"P"},{"z":0.458,"y":0.057,"m":0.032,"t":-63,"k":"P"},{"z":0.516,"y":0.057,"m":0.016,"t":-72,"k":"P"},
{"z":-0.516,"y":0.115,"m":0.011,"t":56,"k":"P"},{"z":-0.458,"y":0.115,"m":0.027,"t":45,"k":"P"},{"z":-0.401,"y":0.115,"m":0.039,"t":27,"k":"P"},{"z":-0.344,"y":0.115,"m":0.057,"t":0,"k":"P"},{"z":-0.287,"y":0.115,"m":0.039,"t":-27,"k":"P"},{"z":-0.229,"y":0.115,"m":0.027,"t":-45,"k":"P"},{"z":-0.172,"y":0.115,"m":0.011,"t":-56,"k":"P"},{"z":-0.115,"y":0.115,"m":0.007,"t":-63,"k":"P"},{"z":0.115,"y":0.115,"m":0.007,"t":63,"k":"P"},{"z":0.172,"y":0.115,"m":0.011,"t":56,"k":"P"},{"z":0.229,"y":0.115,"m":0.027,"t":45,"k":"P"},{"z":0.287,"y":0.115,"m":0.039,"t":27,"k":"P"},{"z":0.344,"y":0.115,"m":0.057,"t":0,"k":"P"},{"z":0.401,"y":0.115,"m":0.039,"t":-27,"k":"P"},{"z":0.458,"y":0.115,"m":0.027,"t":-45,"k":"P"},{"z":0.516,"y":0.115,"m":0.011,"t":-56,"k":"P"},
{"z":-0.516,"y":0.172,"m":0.007,"t":45,"k":"P"},{"z":-0.458,"y":0.172,"m":0.009,"t":34,"k":"P"},{"z":-0.401,"y":0.172,"m":0.018,"t":18,"k":"P"},{"z":-0.344,"y":0.172,"m":0.021,"t":0,"k":"P"},{"z":-0.287,"y":0.172,"m":0.018,"t":-18,"k":"P"},{"z":-0.229,"y":0.172,"m":0.011,"t":-34,"k":"P"},{"z":-0.172,"y":0.172,"m":0.009,"t":-45,"k":"P"},{"z":0.172,"y":0.172,"m":0.009,"t":45,"k":"P"},{"z":0.229,"y":0.172,"m":0.011,"t":34,"k":"P"},{"z":0.287,"y":0.172,"m":0.018,"t":18,"k":"P"},{"z":0.344,"y":0.172,"m":0.021,"t":0,"k":"P"},{"z":0.401,"y":0.172,"m":0.018,"t":-18,"k":"P"},{"z":0.458,"y":0.172,"m":0.009,"t":-34,"k":"P"},{"z":0.516,"y":0.172,"m":0.007,"t":-45,"k":"P"},
{"z":-0.401,"y":0.229,"m":0.007,"t":14,"k":"P"},{"z":-0.344,"y":0.229,"m":0.007,"t":0,"k":"P"},{"z":-0.287,"y":0.229,"m":0.007,"t":-14,"k":"P"},{"z":0.287,"y":0.229,"m":0.007,"t":14,"k":"P"},{"z":0.344,"y":0.229,"m":0.007,"t":0,"k":"P"},{"z":0.401,"y":0.229,"m":0.007,"t":-14,"k":"P"},
{"z":-0.516,"y":0,"m":0.014,"t":-90,"k":"q"},{"z":-0.458,"y":0,"m":0.032,"t":-90,"k":"q"},{"z":-0.229,"y":0,"m":0.032,"t":-90,"k":"q"},{"z":-0.172,"y":0,"m":0.011,"t":-90,"k":"q"},{"z":-0.115,"y":0,"m":0.007,"t":-90,"k":"q"},{"z":0.115,"y":0,"m":0.007,"t":-90,"k":"q"},{"z":0.172,"y":0,"m":0.011,"t":-90,"k":"q"},{"z":0.229,"y":0,"m":0.032,"t":-90,"k":"q"},{"z":0.458,"y":0,"m":0.032,"t":-90,"k":"q"},{"z":0.516,"y":0,"m":0.014,"t":-90,"k":"q"},
{"z":-0.516,"y":0,"m":0.014,"t":90,"k":"Q"},{"z":-0.458,"y":0,"m":0.032,"t":90,"k":"Q"},{"z":-0.229,"y":0,"m":0.032,"t":90,"k":"Q"},{"z":-0.172,"y":0,"m":0.011,"t":90,"k":"Q"},{"z":-0.115,"y":0,"m":0.007,"t":90,"k":"Q"},{"z":0.115,"y":0,"m":0.007,"t":90,"k":"Q"},{"z":0.172,"y":0,"m":0.011,"t":90,"k":"Q"},{"z":0.229,"y":0,"m":0.032,"t":90,"k":"Q"},{"z":0.458,"y":0,"m":0.032,"t":90,"k":"Q"},{"z":0.516,"y":0,"m":0.014,"t":90,"k":"Q"}
]
},
"hconcat":[
{"width":472,"height":319,"data":{"values":[{}]},
"layer":[
{"data":{"name":"GZ"},"mark":{"type":"rule","color":"#d9d9d9","strokeWidth":2},"encoding":{"x":{"field":"z","type":"quantitative","scale":{"domain":[-0.538,0.538],"nice":false,"zero":false},"axis":{"values":[-0.4,-0.2,0,0.2,0.4],"format":".1f","title":"z [fm]","labelPadding":2,"titlePadding":1}},"y":{"datum":0.3635,"type":"quantitative","scale":{"domain":[-0.3635,0.3635],"nice":false,"zero":false},"axis":{"values":[-0.3,-0.2,-0.1,0,0.1,0.2,0.3],"format":".1f","title":"y [fm]","labelPadding":2,"titlePadding":6}},"y2":{"datum":-0.3635}}},
{"data":{"name":"GY"},"mark":{"type":"rule","color":"#d9d9d9","strokeWidth":2},"encoding":{"y":{"field":"y","type":"quantitative"},"x":{"datum":-0.538,"type":"quantitative"},"x2":{"datum":0.538}}},
{"data":{"name":"A"},"transform":[{"filter":"datum.k=='N'"}],"mark":{"type":"point","shape":"M-1,0L1,0M1,0L0.62,-0.18L0.62,0.18ZM-1,0L-0.62,0.18L-0.62,-0.18Z","filled":true,"fill":"#ff0000","stroke":"#ff0000","strokeWidth":1.5,"strokeJoin":"round","opacity":0.22},"encoding":{"x":{"field":"z","type":"quantitative"},"y":{"field":"y","type":"quantitative"},"size":{"field":"m","type":"quantitative","scale":{"type":"pow","exponent":2,"domain":[0,0.1],"range":[0,7698]},"legend":null},"angle":{"field":"t","type":"quantitative","scale":{"domain":[0,360],"range":[360,0]},"legend":null}}},
{"data":{"name":"A"},"transform":[{"filter":"datum.k=='P'"}],"mark":{"type":"point","shape":"M-1,0L1,0M-0.05,0L-0.45,-0.18L-0.45,0.18ZM0.05,0L0.45,0.18L0.45,-0.18Z","filled":true,"fill":"#0000ff","stroke":"#0000ff","strokeWidth":1.5,"strokeJoin":"round","opacity":0.22},"encoding":{"x":{"field":"z","type":"quantitative"},"y":{"field":"y","type":"quantitative"},"size":{"field":"m","type":"quantitative","scale":{"type":"pow","exponent":2,"domain":[0,0.1],"range":[0,7698]},"legend":null},"angle":{"field":"t","type":"quantitative","scale":{"domain":[0,360],"range":[360,0]},"legend":null}}},
{"data":{"name":"A"},"transform":[{"filter":"datum.k=='Q'"}],"mark":{"type":"point","shape":"M0,0L1,0M0.05,0L0.45,-0.18L0.45,0.18Z","filled":true,"fill":"#0000ff","stroke":"#0000ff","strokeWidth":1.5,"strokeJoin":"round","opacity":0.22},"encoding":{"x":{"field":"z","type":"quantitative"},"y":{"field":"y","type":"quantitative"},"size":{"field":"m","type":"quantitative","scale":{"type":"pow","exponent":2,"domain":[0,0.1],"range":[0,7698]},"legend":null},"angle":{"field":"t","type":"quantitative","scale":{"domain":[0,360],"range":[360,0]},"legend":null}}},
{"data":{"name":"A"},"transform":[{"filter":"datum.k=='n'"}],"mark":{"type":"point","shape":"M-1,0L1,0M1,0L0.62,-0.18L0.62,0.18ZM-1,0L-0.62,0.18L-0.62,-0.18Z","filled":true,"fill":"#ff0000","stroke":"#ff0000","strokeWidth":1.5,"strokeJoin":"round","opacity":1},"encoding":{"x":{"field":"z","type":"quantitative"},"y":{"field":"y","type":"quantitative"},"size":{"field":"m","type":"quantitative","scale":{"type":"pow","exponent":2,"domain":[0,0.1],"range":[0,7698]},"legend":null},"angle":{"field":"t","type":"quantitative","scale":{"domain":[0,360],"range":[360,0]},"legend":null}}},
{"data":{"name":"A"},"transform":[{"filter":"datum.k=='p'"}],"mark":{"type":"point","shape":"M-1,0L1,0M-0.05,0L-0.45,-0.18L-0.45,0.18ZM0.05,0L0.45,0.18L0.45,-0.18Z","filled":true,"fill":"#0000ff","stroke":"#0000ff","strokeWidth":1.5,"strokeJoin":"round","opacity":1},"encoding":{"x":{"field":"z","type":"quantitative"},"y":{"field":"y","type":"quantitative"},"size":{"field":"m","type":"quantitative","scale":{"type":"pow","exponent":2,"domain":[0,0.1],"range":[0,7698]},"legend":null},"angle":{"field":"t","type":"quantitative","scale":{"domain":[0,360],"range":[360,0]},"legend":null}}},
{"data":{"name":"A"},"transform":[{"filter":"datum.k=='q'"}],"mark":{"type":"point","shape":"M0,0L1,0M0.05,0L0.45,-0.18L0.45,0.18Z","filled":true,"fill":"#0000ff","stroke":"#0000ff","strokeWidth":1.5,"strokeJoin":"round","opacity":1},"encoding":{"x":{"field":"z","type":"quantitative"},"y":{"field":"y","type":"quantitative"},"size":{"field":"m","type":"quantitative","scale":{"type":"pow","exponent":2,"domain":[0,0.1],"range":[0,7698]},"legend":null},"angle":{"field":"t","type":"quantitative","scale":{"domain":[0,360],"range":[360,0]},"legend":null}}},
{"data":{"name":"L"},"mark":{"type":"point","shape":"circle","filled":true,"fill":"#c83232","stroke":"#6e1010","strokeWidth":0.9,"size":14,"opacity":1},"encoding":{"x":{"field":"z","type":"quantitative"},"y":{"field":"y","type":"quantitative"}}},
{"data":{"name":"S"},"mark":{"type":"point","shape":"circle","filled":true,"size":140,"stroke":"#ffb000","strokeWidth":2.5,"opacity":1},"encoding":{"x":{"field":"z","type":"quantitative"},"y":{"field":"y","type":"quantitative"},"fill":{"field":"c","type":"nominal","scale":{"domain":["o","f"],"range":["#ffffff","#ee6a00"]},"legend":null}}},
{"mark":{"type":"rect","fill":"white","opacity":1},"encoding":{"x":{"datum":-0.513,"type":"quantitative"},"x2":{"datum":-0.018},"y":{"datum":0.3605,"type":"quantitative"},"y2":{"datum":0.305}}},
{"mark":{"type":"text","text":"(a) SU(3) Yang-Mills","font":"DejaVu Sans","fontSize":21,"align":"left","baseline":"alphabetic","fill":"black"},"encoding":{"x":{"datum":-0.504,"type":"quantitative"},"y":{"datum":0.3132,"type":"quantitative"}}},
{"mark":{"type":"rect","fill":"white","fillOpacity":0.8,"stroke":"black","strokeWidth":1.2},"encoding":{"x":{"datum":0.2235,"type":"quantitative"},"x2":{"datum":0.5175},"y":{"datum":-0.2035,"type":"quantitative"},"y2":{"datum":-0.333}}},
{"mark":{"type":"point","shape":"M-1,0L1,0M1,0L0.62,-0.18L0.62,0.18ZM-1,0L-0.62,0.18L-0.62,-0.18Z","filled":true,"fill":"#ff0000","stroke":"#ff0000","strokeWidth":1.5,"strokeJoin":"round","opacity":1,"size":1730},"encoding":{"x":{"datum":0.288,"type":"quantitative"},"y":{"datum":-0.2475,"type":"quantitative"}}},
{"mark":{"type":"point","shape":"M-1,0L1,0M-0.05,0L-0.45,-0.18L-0.45,0.18ZM0.05,0L0.45,0.18L0.45,-0.18Z","filled":true,"fill":"#0000ff","stroke":"#0000ff","strokeWidth":1.5,"strokeJoin":"round","opacity":1,"size":2116},"encoding":{"x":{"datum":0.2875,"type":"quantitative"},"y":{"datum":-0.2985,"type":"quantitative"}}},
{"mark":{"type":"point","shape":"circle","filled":true,"fill":"#c83232","stroke":"#6e1010","strokeWidth":0.9,"size":14,"opacity":1},"encoding":{"x":{"datum":0.288,"type":"quantitative"},"y":{"datum":-0.2475,"type":"quantitative"}}},
{"mark":{"type":"point","shape":"circle","filled":true,"fill":"#c83232","stroke":"#6e1010","strokeWidth":0.9,"size":14,"opacity":1},"encoding":{"x":{"datum":0.2875,"type":"quantitative"},"y":{"datum":-0.2985,"type":"quantitative"}}},
{"mark":{"type":"text","text":"λₖ < 0","font":"Liberation Serif","fontSize":21,"align":"left","baseline":"alphabetic","fill":"#ff0000"},"encoding":{"x":{"datum":0.3777,"type":"quantitative"},"y":{"datum":-0.258,"type":"quantitative"}}},
{"mark":{"type":"text","text":"λₖ > 0","font":"Liberation Serif","fontSize":21,"align":"left","baseline":"alphabetic","fill":"#0000ff"},"encoding":{"x":{"datum":0.3777,"type":"quantitative"},"y":{"datum":-0.311,"type":"quantitative"}}}
]},
{"width":472,"height":319,"data":{"values":[{}]},
"layer":[
{"data":{"name":"GZ"},"mark":{"type":"rule","color":"#d9d9d9","strokeWidth":2},"encoding":{"x":{"field":"z","type":"quantitative","scale":{"domain":[-0.538,0.538],"nice":false,"zero":false},"axis":{"values":[-0.4,-0.2,0,0.2,0.4],"format":".1f","title":"z [fm]","labelPadding":2,"titlePadding":1}},"y":{"datum":0.3635,"type":"quantitative","scale":{"domain":[-0.3635,0.3635],"nice":false,"zero":false},"axis":{"values":[-0.3,-0.2,-0.1,0,0.1,0.2,0.3],"format":".1f","title":"y [fm]","labelPadding":2,"titlePadding":6}},"y2":{"datum":-0.3635}}},
{"data":{"name":"GY"},"mark":{"type":"rule","color":"#d9d9d9","strokeWidth":2},"encoding":{"y":{"field":"y","type":"quantitative"},"x":{"datum":-0.538,"type":"quantitative"},"x2":{"datum":0.538}}},
{"data":{"name":"B"},"transform":[{"filter":"datum.k=='N'"}],"mark":{"type":"point","shape":"M-1,0L1,0M1,0L0.62,-0.18L0.62,0.18ZM-1,0L-0.62,0.18L-0.62,-0.18Z","filled":true,"fill":"#ff0000","stroke":"#ff0000","strokeWidth":1.5,"strokeJoin":"round","opacity":0.22},"encoding":{"x":{"field":"z","type":"quantitative"},"y":{"field":"y","type":"quantitative"},"size":{"field":"m","type":"quantitative","scale":{"type":"pow","exponent":2,"domain":[0,0.1],"range":[0,7698]},"legend":null},"angle":{"field":"t","type":"quantitative","scale":{"domain":[0,360],"range":[360,0]},"legend":null}}},
{"data":{"name":"B"},"transform":[{"filter":"datum.k=='P'"}],"mark":{"type":"point","shape":"M-1,0L1,0M-0.05,0L-0.45,-0.18L-0.45,0.18ZM0.05,0L0.45,0.18L0.45,-0.18Z","filled":true,"fill":"#0000ff","stroke":"#0000ff","strokeWidth":1.5,"strokeJoin":"round","opacity":0.22},"encoding":{"x":{"field":"z","type":"quantitative"},"y":{"field":"y","type":"quantitative"},"size":{"field":"m","type":"quantitative","scale":{"type":"pow","exponent":2,"domain":[0,0.1],"range":[0,7698]},"legend":null},"angle":{"field":"t","type":"quantitative","scale":{"domain":[0,360],"range":[360,0]},"legend":null}}},
{"data":{"name":"B"},"transform":[{"filter":"datum.k=='Q'"}],"mark":{"type":"point","shape":"M0,0L1,0M0.05,0L0.45,-0.18L0.45,0.18Z","filled":true,"fill":"#0000ff","stroke":"#0000ff","strokeWidth":1.5,"strokeJoin":"round","opacity":0.22},"encoding":{"x":{"field":"z","type":"quantitative"},"y":{"field":"y","type":"quantitative"},"size":{"field":"m","type":"quantitative","scale":{"type":"pow","exponent":2,"domain":[0,0.1],"range":[0,7698]},"legend":null},"angle":{"field":"t","type":"quantitative","scale":{"domain":[0,360],"range":[360,0]},"legend":null}}},
{"data":{"name":"B"},"transform":[{"filter":"datum.k=='n'"}],"mark":{"type":"point","shape":"M-1,0L1,0M1,0L0.62,-0.18L0.62,0.18ZM-1,0L-0.62,0.18L-0.62,-0.18Z","filled":true,"fill":"#ff0000","stroke":"#ff0000","strokeWidth":1.5,"strokeJoin":"round","opacity":1},"encoding":{"x":{"field":"z","type":"quantitative"},"y":{"field":"y","type":"quantitative"},"size":{"field":"m","type":"quantitative","scale":{"type":"pow","exponent":2,"domain":[0,0.1],"range":[0,7698]},"legend":null},"angle":{"field":"t","type":"quantitative","scale":{"domain":[0,360],"range":[360,0]},"legend":null}}},
{"data":{"name":"B"},"transform":[{"filter":"datum.k=='p'"}],"mark":{"type":"point","shape":"M-1,0L1,0M-0.05,0L-0.45,-0.18L-0.45,0.18ZM0.05,0L0.45,0.18L0.45,-0.18Z","filled":true,"fill":"#0000ff","stroke":"#0000ff","strokeWidth":1.5,"strokeJoin":"round","opacity":1},"encoding":{"x":{"field":"z","type":"quantitative"},"y":{"field":"y","type":"quantitative"},"size":{"field":"m","type":"quantitative","scale":{"type":"pow","exponent":2,"domain":[0,0.1],"range":[0,7698]},"legend":null},"angle":{"field":"t","type":"quantitative","scale":{"domain":[0,360],"range":[360,0]},"legend":null}}},
{"data":{"name":"B"},"transform":[{"filter":"datum.k=='q'"}],"mark":{"type":"point","shape":"M0,0L1,0M0.05,0L0.45,-0.18L0.45,0.18Z","filled":true,"fill":"#0000ff","stroke":"#0000ff","strokeWidth":1.5,"strokeJoin":"round","opacity":1},"encoding":{"x":{"field":"z","type":"quantitative"},"y":{"field":"y","type":"quantitative"},"size":{"field":"m","type":"quantitative","scale":{"type":"pow","exponent":2,"domain":[0,0.1],"range":[0,7698]},"legend":null},"angle":{"field":"t","type":"quantitative","scale":{"domain":[0,360],"range":[360,0]},"legend":null}}},
{"data":{"name":"L"},"mark":{"type":"point","shape":"circle","filled":true,"fill":"#c83232","stroke":"#6e1010","strokeWidth":0.9,"size":14,"opacity":1},"encoding":{"x":{"field":"z","type":"quantitative"},"y":{"field":"y","type":"quantitative"}}},
{"data":{"name":"S"},"mark":{"type":"point","shape":"circle","filled":true,"size":140,"stroke":"#ffb000","strokeWidth":2.5,"opacity":1},"encoding":{"x":{"field":"z","type":"quantitative"},"y":{"field":"y","type":"quantitative"},"fill":{"field":"c","type":"nominal","scale":{"domain":["o","f"],"range":["#ffffff","#ee6a00"]},"legend":null}}},
{"mark":{"type":"rect","fill":"white","opacity":1},"encoding":{"x":{"datum":-0.51,"type":"quantitative"},"x2":{"datum":-0.215},"y":{"datum":0.3605,"type":"quantitative"},"y2":{"datum":0.305}}},
{"mark":{"type":"text","text":"(b) Maxwell","font":"DejaVu Sans","fontSize":21,"align":"left","baseline":"alphabetic","fill":"black"},"encoding":{"x":{"datum":-0.503,"type":"quantitative"},"y":{"datum":0.3132,"type":"quantitative"}}},
{"mark":{"type":"rect","fill":"white","fillOpacity":0.8,"stroke":"black","strokeWidth":1.2},"encoding":{"x":{"datum":0.2235,"type":"quantitative"},"x2":{"datum":0.5175},"y":{"datum":-0.2035,"type":"quantitative"},"y2":{"datum":-0.333}}},
{"mark":{"type":"point","shape":"M-1,0L1,0M1,0L0.62,-0.18L0.62,0.18ZM-1,0L-0.62,0.18L-0.62,-0.18Z","filled":true,"fill":"#ff0000","stroke":"#ff0000","strokeWidth":1.5,"strokeJoin":"round","opacity":1,"size":1730},"encoding":{"x":{"datum":0.288,"type":"quantitative"},"y":{"datum":-0.2475,"type":"quantitative"}}},
{"mark":{"type":"point","shape":"M-1,0L1,0M-0.05,0L-0.45,-0.18L-0.45,0.18ZM0.05,0L0.45,0.18L0.45,-0.18Z","filled":true,"fill":"#0000ff","stroke":"#0000ff","strokeWidth":1.5,"strokeJoin":"round","opacity":1,"size":2116},"encoding":{"x":{"datum":0.2875,"type":"quantitative"},"y":{"datum":-0.2985,"type":"quantitative"}}},
{"mark":{"type":"point","shape":"circle","filled":true,"fill":"#c83232","stroke":"#6e1010","strokeWidth":0.9,"size":14,"opacity":1},"encoding":{"x":{"datum":0.288,"type":"quantitative"},"y":{"datum":-0.2475,"type":"quantitative"}}},
{"mark":{"type":"point","shape":"circle","filled":true,"fill":"#c83232","stroke":"#6e1010","strokeWidth":0.9,"size":14,"opacity":1},"encoding":{"x":{"datum":0.2875,"type":"quantitative"},"y":{"datum":-0.2985,"type":"quantitative"}}},
{"mark":{"type":"text","text":"λₖ < 0","font":"Liberation Serif","fontSize":21,"align":"left","baseline":"alphabetic","fill":"#ff0000"},"encoding":{"x":{"datum":0.3777,"type":"quantitative"},"y":{"datum":-0.258,"type":"quantitative"}}},
{"mark":{"type":"text","text":"λₖ > 0","font":"Liberation Serif","fontSize":21,"align":"left","baseline":"alphabetic","fill":"#0000ff"},"encoding":{"x":{"datum":0.3777,"type":"quantitative"},"y":{"datum":-0.311,"type":"quantitative"}}}
]}
]
}
